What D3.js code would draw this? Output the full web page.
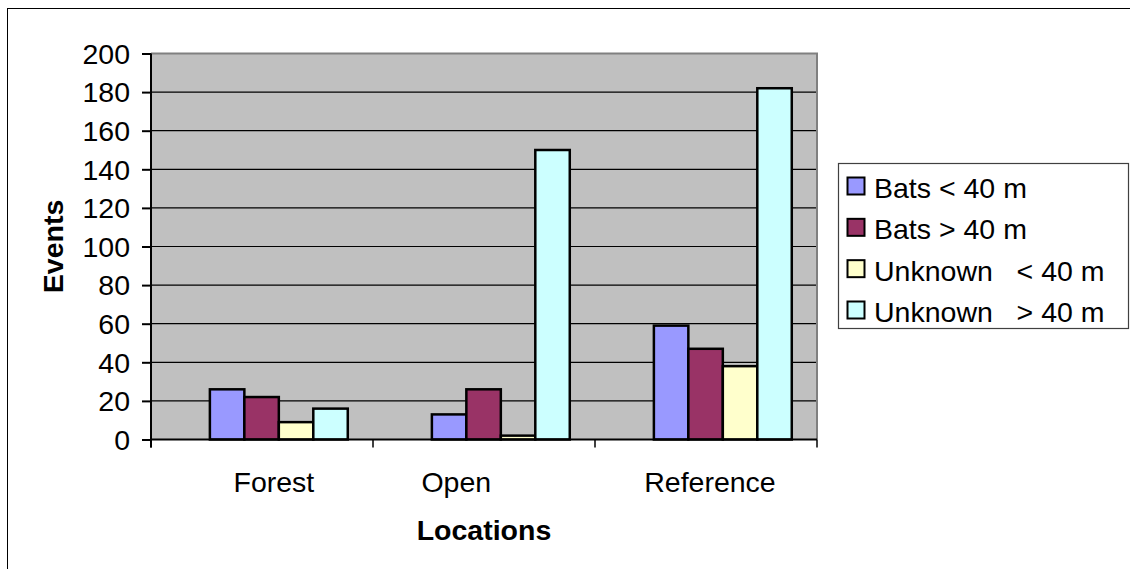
<!DOCTYPE html>
<html>
<head>
<meta charset="utf-8">
<script src="https://cdn.jsdelivr.net/npm/d3@7"></script>
<style>
  html, body { margin: 0; padding: 0; background: #fff; }
  svg { display: block; font-family: "Liberation Sans", Arial, sans-serif; }
  text { white-space: pre; }
</style>
</head>
<body>
<svg id="chart" width="1130" height="569"></svg>
<script>
// Category labels (padding spaces keep the original label placement)
const categories = ["   Forest", "Open       ", " Reference"];
const seriesNames = ["Bats < 40 m", "Bats > 40 m", "Unknown   < 40 m", "Unknown   > 40 m"];
const seriesColors = ["#9999ff", "#993366", "#ffffcc", "#ccffff"];
const batsBelow40 = [26, 13, 59];
const batsAbove40 = [22, 26, 47];
const unknownBelow40 = [9, 2, 38];
const unknownAbove40 = [16, 150, 182];
const yTicks = [0, 20, 40, 60, 80, 100, 120, 140, 160, 180, 200];

const seriesValues = [batsBelow40, batsAbove40, unknownBelow40, unknownAbove40];

const svg = d3.select("#chart");
const fontSize = 28.5;

const plot = { left: 151, right: 817, top: 53.5, bottom: 439.5 };

// Outer chart frame
svg.append("rect")
  .attr("x", 7.5).attr("y", 8.5)
  .attr("width", 1140).attr("height", 580)
  .attr("fill", "#fff").attr("stroke", "#000").attr("stroke-width", 1);

const x0 = d3.scaleBand().domain(categories).range([plot.left, plot.right]).padding(0);
const x1 = d3.scaleBand().domain(seriesNames).range([0, x0.bandwidth()])
  .paddingInner(0).paddingOuter(1.22).align(0.70);
const y = d3.scaleLinear().domain([0, 200]).range([plot.bottom, plot.top]);

// Plot background
svg.append("rect")
  .attr("x", plot.left).attr("y", plot.top)
  .attr("width", plot.right - plot.left).attr("height", plot.bottom - plot.top)
  .attr("fill", "#c0c0c0");

// Horizontal gridlines
svg.append("g")
  .selectAll("line")
  .data(yTicks.filter(d => d > 0 && d < 200))
  .join("line")
  .attr("x1", plot.left).attr("x2", plot.right)
  .attr("y1", d => y(d)).attr("y2", d => y(d))
  .attr("stroke", "#000").attr("stroke-width", 1.2);

// Plot border (top and right)
svg.append("path")
  .attr("d", `M${plot.left},${plot.top}H${plot.right}V${plot.bottom}`)
  .attr("fill", "none").attr("stroke", "#808080").attr("stroke-width", 2);

// Bars
const groups = svg.append("g")
  .selectAll("g")
  .data(categories)
  .join("g")
  .attr("transform", d => `translate(${x0(d)},0)`);

groups.selectAll("rect")
  .data((c, i) => seriesNames.map((s, k) => ({ series: s, value: seriesValues[k][i], color: seriesColors[k] })))
  .join("rect")
  .attr("x", d => x1(d.series))
  .attr("width", x1.bandwidth())
  .attr("y", d => y(d.value))
  .attr("height", d => y(0) - y(d.value))
  .attr("fill", d => d.color)
  .attr("stroke", "#000").attr("stroke-width", 2.5);

// Y axis
const yAxis = d3.axisLeft(y).tickValues(yTicks).tickSize(9).tickPadding(12);
const gy = svg.append("g").attr("transform", `translate(${plot.left},0)`).call(yAxis);
gy.select(".domain").attr("stroke", "#000").attr("stroke-width", 2)
  .attr("d", `M0,${plot.top}V${plot.bottom + 8}`);
gy.selectAll(".tick line").attr("stroke", "#000").attr("stroke-width", 2);
gy.selectAll(".tick text")
  .attr("font-size", fontSize).attr("fill", "#000")
  .attr("font-family", "Liberation Sans, Arial, sans-serif")
  .attr("dy", "0.34em");

// X axis line with boundary ticks
const boundaries = categories.map(c => x0(c)).concat([plot.right]);
svg.append("line")
  .attr("x1", plot.left).attr("x2", plot.right)
  .attr("y1", plot.bottom).attr("y2", plot.bottom)
  .attr("stroke", "#000").attr("stroke-width", 2);
svg.append("g").selectAll("line")
  .data(boundaries)
  .join("line")
  .attr("x1", d => d).attr("x2", d => d)
  .attr("y1", plot.bottom).attr("y2", plot.bottom + 8)
  .attr("stroke", "#000").attr("stroke-width", 1.5);

// Category labels
svg.append("g").selectAll("text")
  .data(categories)
  .join("text")
  .attr("x", d => x0(d) + x0.bandwidth() / 2)
  .attr("y", 492)
  .attr("text-anchor", "middle")
  .attr("font-size", fontSize)
  .attr("fill", "#000")
  .text(d => d);

// Axis titles
svg.append("text")
  .attr("x", (plot.left + plot.right) / 2).attr("y", 540)
  .attr("text-anchor", "middle")
  .attr("font-size", fontSize).attr("font-weight", "bold")
  .text("Locations");

svg.append("text")
  .attr("transform", `translate(63,${(plot.top + plot.bottom) / 2}) rotate(-90)`)
  .attr("text-anchor", "middle")
  .attr("font-size", fontSize).attr("font-weight", "bold")
  .text("Events");

// Legend
const legend = svg.append("g");
legend.append("rect")
  .attr("x", 838.5).attr("y", 163.5)
  .attr("width", 290).attr("height", 165)
  .attr("fill", "#fff").attr("stroke", "#404040").attr("stroke-width", 1.2);

const rowY = d3.scalePoint().domain(seriesNames).range([198, 322]);
const rows = legend.selectAll("g.row")
  .data(seriesNames)
  .join("g")
  .attr("class", "row")
  .attr("transform", d => `translate(0,${rowY(d)})`);

rows.append("rect")
  .attr("x", 847.5).attr("y", -20.5)
  .attr("width", 17).attr("height", 17)
  .attr("fill", (d, i) => seriesColors[i])
  .attr("stroke", "#000").attr("stroke-width", 2);

rows.append("text")
  .attr("x", 874).attr("y", 0)
  .attr("font-size", fontSize)
  .attr("fill", "#000")
  .text(d => d);
</script>
</body>
</html>
